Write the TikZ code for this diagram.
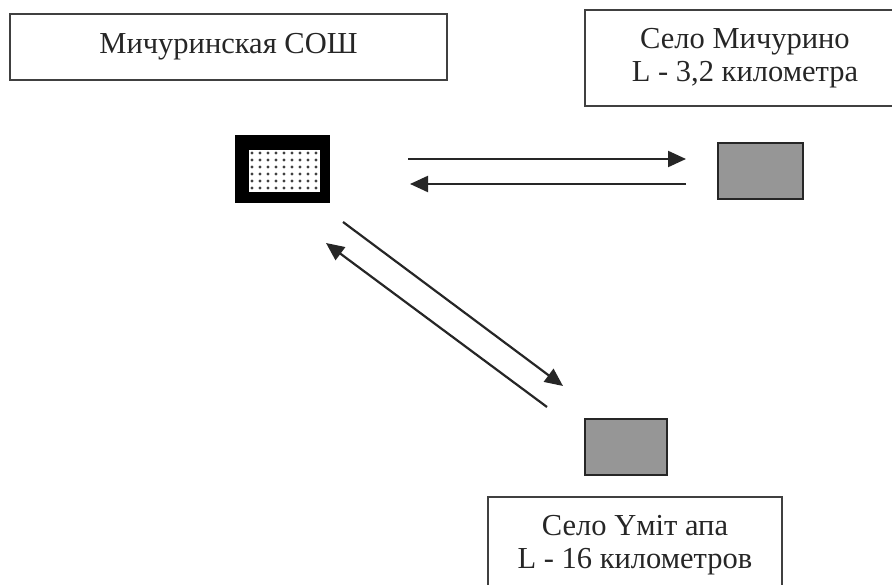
\documentclass[tikz,border=0pt]{standalone}
\usepackage{fontspec}
\setmainfont{Liberation Serif}
\usetikzlibrary{arrows.meta,positioning}
\definecolor{housegray}{RGB}{150,150,150}
\begin{document}
\begin{tikzpicture}[x=1pt,y=-1pt,>={Triangle[length=18pt,width=16pt]},
	textbox/.style={draw=black!75,line width=1.7pt,align=center,inner sep=0pt,text=black!85,font=\fontsize{30.5}{33}\selectfont},
	village/.style={draw=black!85,line width=1.7pt,fill=housegray,minimum height=56pt,inner sep=0pt},
	route/.style={->,line width=2.2pt,draw=black!85}]
	\useasboundingbox (0,0) rectangle (892,585);
	% labels
	\node[textbox,minimum width=437pt,minimum height=66pt] (soshname) at (228.5,47) {Мичуринская СОШ};
	\node[textbox,minimum width=320pt,minimum height=96pt] (michname) at (745,58) {Село Мичурино\\L - 3,2 километра};
	\node[textbox,minimum width=294pt,minimum height=96pt] (umitname) at (635,545) {Село Үміт апа\\L - 16 километров};
	% school
	\node[fill=black,minimum width=95pt,minimum height=68pt,inner sep=0pt] (school) at (282.5,169) {};
	\node[fill=white,minimum width=71pt,minimum height=42pt,inner sep=0pt] (yard) at (284.5,171) {};
	\foreach \i in {0,...,8}
		\foreach \j in {0,...,5}
			\fill[black!75] (252+8*\i,153+7*\j) circle (1.6pt);
	% villages
	\node[village,minimum width=85pt] (mich) at (760.5,171) {};
	\node[village,minimum width=82pt] (umit) at (626,447) {};
	% routes
	\coordinate (toMichA) at (408,159);
	\coordinate (toMichB) at (686,159);
	\coordinate (fromMichA) at (686,184);
	\coordinate (fromMichB) at (410,184);
	\coordinate (toUmitA) at (343,222);
	\coordinate (toUmitB) at (563,386);
	\coordinate (fromUmitA) at (547,407);
	\coordinate (fromUmitB) at (326,243);
	\draw[route] (toMichA) -- (toMichB);
	\draw[route] (fromMichA) -- (fromMichB);
	\draw[route] (toUmitA) -- (toUmitB);
	\draw[route] (fromUmitA) -- (fromUmitB);
\end{tikzpicture}
\end{document}
